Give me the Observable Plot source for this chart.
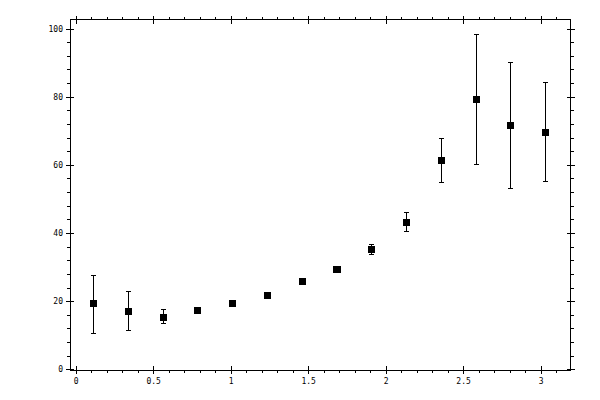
<!DOCTYPE html>
<html>
<head>
<meta charset="utf-8">
<script src="https://cdn.jsdelivr.net/npm/d3@7"></script>
<script src="https://cdn.jsdelivr.net/npm/@observablehq/plot@0.6"></script>
<style>
  html, body { margin: 0; padding: 0; background: #fff; }
  svg path, svg line, svg rect { shape-rendering: crispEdges; }
</style>
</head>
<body>
<div id="chart"></div>
<script>
const xs = [0.112, 0.337, 0.561, 0.785, 1.010, 1.234, 1.459, 1.683, 1.907, 2.132, 2.356, 2.581, 2.805, 3.030];
const ys = [19.4, 17.0, 15.4, 17.3, 19.4, 21.7, 25.8, 29.4, 35.2, 43.2, 61.4, 79.3, 71.6, 69.6];
const lo = [10.7, 11.4, 13.6, 16.5, 18.8, 21.1, 25.2, 28.8, 33.8, 40.5, 54.9, 60.2, 53.1, 55.2];
const hi = [27.8, 22.9, 17.6, 18.3, 20.0, 22.3, 26.4, 30.0, 36.7, 46.1, 67.8, 98.4, 90.1, 84.4];

const xMajor = [0, 0.5, 1, 1.5, 2, 2.5, 3];
const xMinor = [0.1, 0.2, 0.3, 0.4, 0.6, 0.7, 0.8, 0.9, 1.1, 1.2, 1.3, 1.4, 1.6, 1.7, 1.8, 1.9,
                2.1, 2.2, 2.3, 2.4, 2.6, 2.7, 2.8, 2.9, 3.1];
const yMajor = [0, 20, 40, 60, 80, 100];
const yMinor = [4, 8, 12, 16, 24, 28, 32, 36, 44, 48, 52, 56, 64, 68, 72, 76, 84, 88, 92, 96];

const data = xs.map((x, i) => ({x, y: ys[i], lo: lo[i], hi: hi[i]}));

const cap = {
  draw(ctx) { ctx.moveTo(-2.5, 0); ctx.lineTo(2.5, 0); }
};

const font = {fontFamily: "DejaVu Sans Mono", fontSize: 8};
const noLabel = () => "";

const chart = Plot.plot({
  width: 600,
  height: 400,
  marginLeft: 69.5,
  marginRight: 30,
  marginTop: 19,
  marginBottom: 30,
  style: {fontFamily: "DejaVu Sans Mono", fontSize: "8px", background: "#fff", color: "#000"},
  x: {domain: [-0.04, 3.19], label: null},
  y: {domain: [-0.2, 102.8], label: null},
  marks: [
    Plot.frame({stroke: "black", strokeWidth: 1}),
    // bottom axis
    Plot.axisX({anchor: "bottom", ticks: xMajor, tickSize: 4, tickPadding: 4, tickFormat: d => String(d), label: null, ...font, strokeOpacity: 1, strokeWidth: 1}),
    Plot.axisX({anchor: "bottom", ticks: xMajor, tickSize: -4, tickFormat: noLabel, label: null, strokeOpacity: 1}),
    Plot.axisX({anchor: "bottom", ticks: xMinor, tickSize: 3, tickFormat: noLabel, label: null, strokeOpacity: 1}),
    // top axis
    Plot.axisX({anchor: "top", ticks: xMajor, tickSize: 4, tickFormat: noLabel, label: null, strokeOpacity: 1}),
    Plot.axisX({anchor: "top", ticks: xMajor, tickSize: -4, tickFormat: noLabel, label: null, strokeOpacity: 1}),
    Plot.axisX({anchor: "top", ticks: xMinor, tickSize: 3, tickFormat: noLabel, label: null, strokeOpacity: 1}),
    // left axis
    Plot.axisY({anchor: "left", ticks: yMajor, tickSize: 4, tickPadding: 3, tickFormat: d => String(d), label: null, ...font, strokeOpacity: 1}),
    Plot.axisY({anchor: "left", ticks: yMajor, tickSize: -4, tickFormat: noLabel, label: null, strokeOpacity: 1}),
    Plot.axisY({anchor: "left", ticks: yMinor, tickSize: 3, tickFormat: noLabel, label: null, strokeOpacity: 1}),
    // right axis
    Plot.axisY({anchor: "right", ticks: yMajor, tickSize: 4, tickFormat: noLabel, label: null, strokeOpacity: 1}),
    Plot.axisY({anchor: "right", ticks: yMajor, tickSize: -4, tickFormat: noLabel, label: null, strokeOpacity: 1}),
    Plot.axisY({anchor: "right", ticks: yMinor, tickSize: 3, tickFormat: noLabel, label: null, strokeOpacity: 1}),
    // error bars
    Plot.ruleX(data, {x: "x", y1: "lo", y2: "hi", stroke: "black", strokeWidth: 1}),
    Plot.dot(data, {x: "x", y: "lo", symbol: cap, stroke: "black", fill: "none", strokeWidth: 1}),
    Plot.dot(data, {x: "x", y: "hi", symbol: cap, stroke: "black", fill: "none", strokeWidth: 1}),
    // markers
    Plot.dot(data, {x: "x", y: "y", symbol: "square", r: 4, fill: "black", stroke: "none"})
  ]
});

document.getElementById("chart").appendChild(chart);
</script>
</body>
</html>
